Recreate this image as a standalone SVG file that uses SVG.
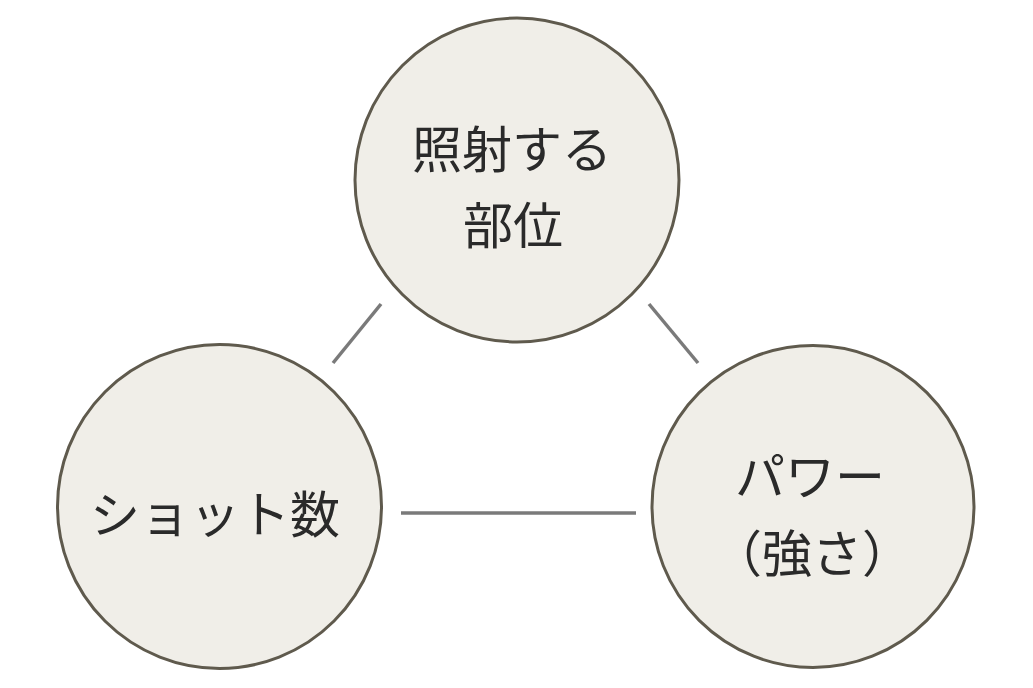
<svg xmlns="http://www.w3.org/2000/svg" width="1033" height="688" viewBox="0 0 1033 688">
<style>
.node circle{fill:#f0eee8;stroke:#5f5a4d;stroke-width:3}
.node text{font-family:"Noto Sans CJK JP","Noto Sans",sans-serif;font-size:50px;fill:#2a2a2a;text-anchor:middle}
.conn line{stroke:#7a7a7a;stroke-width:3.5;stroke-linecap:butt}
</style>
<rect width="1033" height="688" fill="#ffffff"/>
<g id="connectors" class="conn">
<line x1="381" y1="304" x2="333" y2="363"/>
<line x1="649" y1="304" x2="698" y2="363"/>
<line x1="401" y1="513" x2="636" y2="513"/>
</g>
<g id="node-top" class="node">
<circle cx="517" cy="180" r="162"/>
<text x="512" y="168">照射する</text>
<text x="513" y="244">部位</text>
</g>
<g id="node-left" class="node">
<circle cx="219.5" cy="506.5" r="162"/>
<text x="215" y="533">ショット数</text>
</g>
<g id="node-right" class="node">
<circle cx="813" cy="506.5" r="161"/>
<text x="810" y="495">パワー</text>
<text x="812" y="572">（強さ）</text>
</g>
</svg>
